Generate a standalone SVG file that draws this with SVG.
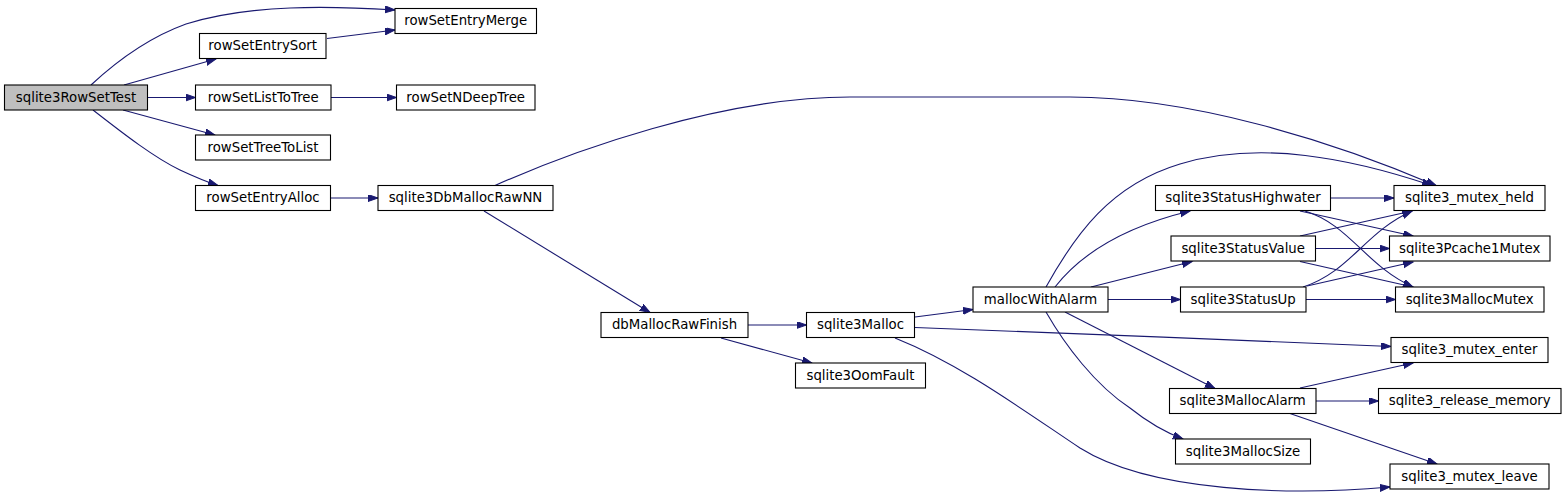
<svg xmlns="http://www.w3.org/2000/svg" width="1567" height="499" viewBox="0 0 1567 499">
<style>
.n rect{fill:#fff;stroke:#000;stroke-width:1.1}
.n.root rect{fill:#bfbfbf}
.n text{font-family:"DejaVu Sans",sans-serif;font-size:13.3px;fill:#000;text-anchor:middle}
#edges path{fill:none;stroke:#191970;stroke-width:1.1;marker-end:url(#a)}
</style>
<defs>
<marker id="a" markerWidth="12" markerHeight="9" refX="10" refY="3.5" orient="auto" markerUnits="userSpaceOnUse">
<path d="M0,0 L10,3.5 L0,7 z" fill="#191970" stroke="#191970" stroke-width="1"/>
</marker>
</defs>
<rect width="1567" height="499" fill="#fff"/>
<g id="edges">
<path d="M91,85 C120,58 150,37 186,24 C250,4 330,6 395,10"/>
<path d="M124,85 L216,59"/>
<path d="M327,38.5 L395,30"/>
<path d="M148,97.5 L195.5,97.5"/>
<path d="M331,97.5 L396.5,97.5"/>
<path d="M123,110 L215,135"/>
<path d="M93,110 C125,135 155,158 180,170 C195,177 207,182 218,185.5"/>
<path d="M331,198 L378,198"/>
<path d="M495,185.5 C570,152 720,97 850,97 L1070,97 C1190,97 1330,140 1436,185.5"/>
<path d="M484,211 L650,312.5"/>
<path d="M748,325 L806.5,325"/>
<path d="M721,338 L812,363"/>
<path d="M915,317 L973,309.5"/>
<path d="M915,327.5 C1050,332 1250,341 1391,346.5"/>
<path d="M895,338 C960,364 1020,408 1080,448 C1150,492 1290,496 1390,487"/>
<path d="M1046,287 C1075,235 1110,185 1180,164 C1260,140 1350,158 1432,185.5"/>
<path d="M1055,287 C1080,255 1120,228 1190,211"/>
<path d="M1091,287 L1192,261.5"/>
<path d="M1108,299.5 L1180.5,299.5"/>
<path d="M1065,312 L1215,388.5"/>
<path d="M1046,312 C1065,345 1095,385 1130,408 C1145,420 1162,431 1183,439"/>
<path d="M1331,198 L1394,198"/>
<path d="M1300,211 L1413,236"/>
<path d="M1305,211 C1350,225 1365,265 1413,287"/>
<path d="M1300,236 L1412,211"/>
<path d="M1316,248.5 L1389.5,248.5"/>
<path d="M1300,261.5 L1413,287"/>
<path d="M1303,287 C1350,272 1365,232 1412,211"/>
<path d="M1307,286 L1413,262"/>
<path d="M1306,299.5 L1395.5,299.5"/>
<path d="M1300,388 L1413,363"/>
<path d="M1316,401 L1378.5,401"/>
<path d="M1290,413.5 L1437,464"/>
</g>
<g id="n_sqlite3RowSetTest" class="n root"><rect x="4.5" y="85" width="143" height="25"/><text x="76" y="101.5">sqlite3RowSetTest</text></g>
<g id="n_rowSetEntryMerge" class="n"><rect x="395" y="8.5" width="141.5" height="25"/><text x="465.7" y="25">rowSetEntryMerge</text></g>
<g id="n_rowSetEntrySort" class="n"><rect x="199.5" y="33.5" width="126.5" height="25"/><text x="262.7" y="50">rowSetEntrySort</text></g>
<g id="n_rowSetListToTree" class="n"><rect x="195.5" y="85" width="135.5" height="25"/><text x="263.2" y="101.5">rowSetListToTree</text></g>
<g id="n_rowSetNDeepTree" class="n"><rect x="396.5" y="85" width="138.5" height="25"/><text x="465.7" y="101.5">rowSetNDeepTree</text></g>
<g id="n_rowSetTreeToList" class="n"><rect x="195.5" y="135" width="135" height="25"/><text x="263" y="151.5">rowSetTreeToList</text></g>
<g id="n_rowSetEntryAlloc" class="n"><rect x="195.5" y="185.5" width="135" height="25"/><text x="263" y="202">rowSetEntryAlloc</text></g>
<g id="n_sqlite3DbMallocRawNN" class="n"><rect x="378" y="185.5" width="175" height="25"/><text x="465.5" y="202">sqlite3DbMallocRawNN</text></g>
<g id="n_dbMallocRawFinish" class="n"><rect x="601" y="312.5" width="147" height="25"/><text x="674.5" y="329">dbMallocRawFinish</text></g>
<g id="n_sqlite3Malloc" class="n"><rect x="806.5" y="312.5" width="108" height="25"/><text x="860.5" y="329">sqlite3Malloc</text></g>
<g id="n_sqlite3OomFault" class="n"><rect x="795.5" y="363" width="130" height="25"/><text x="860.5" y="379.5">sqlite3OomFault</text></g>
<g id="n_mallocWithAlarm" class="n"><rect x="973" y="287" width="135" height="25"/><text x="1040.5" y="303.5">mallocWithAlarm</text></g>
<g id="n_sqlite3StatusHighwater" class="n"><rect x="1155.5" y="185.5" width="175" height="25"/><text x="1243" y="202">sqlite3StatusHighwater</text></g>
<g id="n_sqlite3StatusValue" class="n"><rect x="1171" y="236" width="144.5" height="25"/><text x="1243.2" y="252.5">sqlite3StatusValue</text></g>
<g id="n_sqlite3StatusUp" class="n"><rect x="1180.5" y="287" width="125.5" height="25"/><text x="1243.2" y="303.5">sqlite3StatusUp</text></g>
<g id="n_sqlite3MallocAlarm" class="n"><rect x="1169.5" y="388.5" width="146.5" height="25"/><text x="1242.7" y="405">sqlite3MallocAlarm</text></g>
<g id="n_sqlite3MallocSize" class="n"><rect x="1175.5" y="439" width="135" height="25"/><text x="1243" y="455.5">sqlite3MallocSize</text></g>
<g id="n_sqlite3_mutex_held" class="n"><rect x="1394" y="185.5" width="151" height="25"/><text x="1469.5" y="202">sqlite3_mutex_held</text></g>
<g id="n_sqlite3Pcache1Mutex" class="n"><rect x="1389.5" y="236" width="160.5" height="25"/><text x="1469.7" y="252.5">sqlite3Pcache1Mutex</text></g>
<g id="n_sqlite3MallocMutex" class="n"><rect x="1395.5" y="287" width="148.5" height="25"/><text x="1469.7" y="303.5">sqlite3MallocMutex</text></g>
<g id="n_sqlite3_mutex_enter" class="n"><rect x="1391" y="337.5" width="157" height="25"/><text x="1469.5" y="354">sqlite3_mutex_enter</text></g>
<g id="n_sqlite3_release_memory" class="n"><rect x="1378.5" y="388.5" width="182.5" height="25"/><text x="1469.7" y="405">sqlite3_release_memory</text></g>
<g id="n_sqlite3_mutex_leave" class="n"><rect x="1390" y="464" width="159" height="25"/><text x="1469.5" y="480.5">sqlite3_mutex_leave</text></g>
</svg>
